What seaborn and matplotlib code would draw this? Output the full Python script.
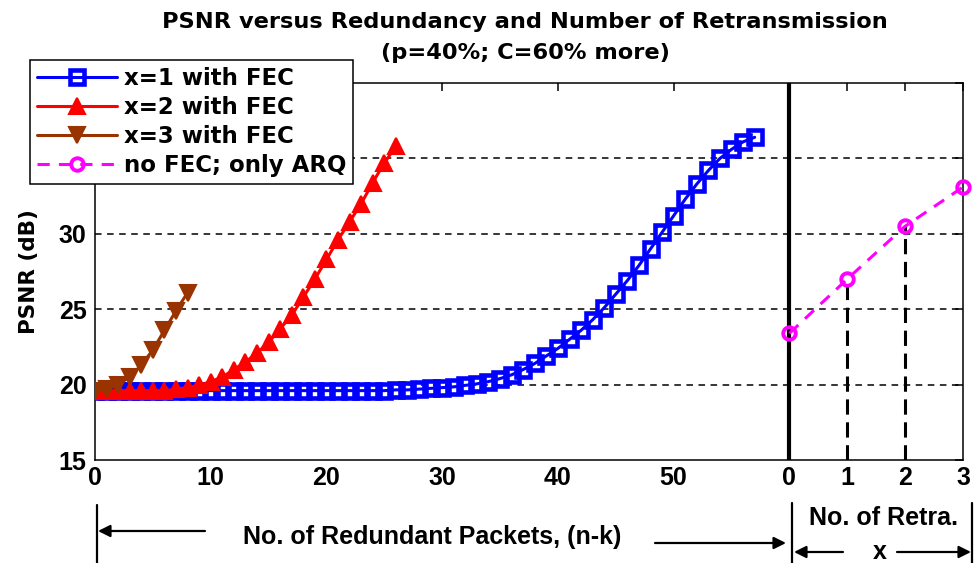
import matplotlib
matplotlib.use("Agg")
import matplotlib.pyplot as plt
import seaborn as sns

# ---- data -------------------------------------------------------------
redundant_x1 = list(range(0, 58))
psnr_x1 = [19.6, 19.6, 19.6, 19.6, 19.6, 19.6, 19.6, 19.6, 19.6, 19.6,
           19.6, 19.6, 19.6, 19.6, 19.6, 19.6, 19.6, 19.6, 19.6, 19.6,
           19.6, 19.6, 19.6, 19.6, 19.6, 19.6, 19.65, 19.65, 19.7, 19.75,
           19.8, 19.85, 19.95, 20.05, 20.2, 20.4, 20.65, 21.0, 21.4, 21.9,
           22.4, 23.0, 23.6, 24.3, 25.1, 26.0, 26.9, 27.9, 29.0, 30.1,
           31.2, 32.3, 33.3, 34.2, 35.0, 35.6, 36.1, 36.4]

redundant_x2 = list(range(0, 27))
psnr_x2 = [19.6, 19.6, 19.6, 19.6, 19.6, 19.6, 19.6, 19.7, 19.8, 19.95,
           20.2, 20.5, 21.0, 21.5, 22.1, 22.8, 23.7, 24.6, 25.8, 27.0,
           28.3, 29.6, 30.8, 32.0, 33.4, 34.7, 35.8]

redundant_x3 = list(range(0, 9))
psnr_x3 = [19.6, 19.7, 20.0, 20.5, 21.3, 22.3, 23.6, 24.9, 26.1]

retransmissions = [0, 1, 2, 3]
psnr_arq = [23.4, 27.0, 30.5, 33.1]

series_labels = ["x=1 with FEC", "x=2 with FEC", "x=3 with FEC", "no FEC; only ARQ"]
redundancy_ticks = [0, 10, 20, 30, 40, 50]
psnr_ticks = [15, 20, 25, 30, 35, 40]

# retransmission panel sits to the right of the redundancy range
RETRA_ORIGIN = 60
RETRA_STEP = 5
retra_pos = [RETRA_ORIGIN + RETRA_STEP * r for r in retransmissions]

# ---- style -------------------------------------------------------------
sns.set_theme(style="white")
plt.rcParams["font.family"] = ["DejaVu Sans"]
plt.rcParams.update({"text.color": "black", "axes.labelcolor": "black",
                     "xtick.color": "black", "ytick.color": "black"})
narrow = ["Liberation Sans", "DejaVu Sans"]

W, H = 979, 563
fig = plt.figure(figsize=(W / 100, H / 100), dpi=100)
L, R, T, B = 95, 963, 83, 460
ax = fig.add_axes([L / W, 1 - B / H, (R - L) / W, (B - T) / H])
ax.set_facecolor("white")

lw = 2.2
sns.lineplot(x=redundant_x1, y=psnr_x1, ax=ax, color="#0000ff", lw=lw,
             marker="s", ms=10, mew=3.3, mec="#0000ff", mfc="none",
             label=series_labels[0], zorder=3)
sns.lineplot(x=redundant_x2, y=psnr_x2, ax=ax, color="#ff0000", lw=lw,
             marker="^", ms=12, mew=1.5, mec="#ff0000", mfc="#ff0000",
             label=series_labels[1], zorder=4)
sns.lineplot(x=redundant_x3, y=psnr_x3, ax=ax, color="#993300", lw=lw,
             marker="v", ms=12, mew=1.5, mec="#993300", mfc="#993300",
             label=series_labels[2], zorder=5)
sns.lineplot(x=retra_pos, y=psnr_arq, ax=ax, color="#ff00ff", lw=lw,
             marker="o", ms=9, mew=2.8, mec="#ff00ff", mfc="none",
             dashes=False, linestyle=(0, (4, 3)),
             label=series_labels[3], zorder=6, clip_on=False)

# separator between the two panels and drop lines to the ARQ points
ax.axvline(RETRA_ORIGIN, color="black", lw=3, zorder=2)
ax.vlines(retra_pos[1:3], 15, psnr_arq[1:3], colors="black", lw=2.2,
          linestyles=[(0, (5, 2.5))], zorder=2)

ax.set_xlim(0, 75)
ax.set_ylim(15, 40)
ax.set_xticks(redundancy_ticks + retra_pos)
ax.set_xticklabels([str(t) for t in redundancy_ticks] + [str(r) for r in retransmissions],
                   family=narrow, fontsize=18, fontweight="bold")
ax.set_yticks(psnr_ticks)
ax.set_yticklabels([str(t) for t in psnr_ticks], family=narrow, fontsize=18,
                   fontweight="bold")
ax.tick_params(direction="in", length=6, width=1.1, top=True, right=True,
               colors="black", pad=4)
ax.tick_params(axis="y", pad=6)

for y in [20, 25, 30, 35]:
    ax.axhline(y, color="black", lw=1.1, linestyle=(0, (4.3, 3.6)), zorder=1)
for s in ax.spines.values():
    s.set_color("black")
    s.set_linewidth(1.1)

ax.set_xlabel("")
ax.set_ylabel("PSNR (dB)", fontsize=15.5, fontweight="bold", labelpad=14)

leg = ax.legend(loc="upper left", bbox_to_anchor=(30 / W, 1 - 60 / H),
                bbox_transform=fig.transFigure, frameon=True, fancybox=False,
                edgecolor="black", framealpha=1, borderaxespad=0,
                prop={"size": 16.5, "weight": "bold"}, handlelength=3.5,
                handletextpad=0.3, labelspacing=0.27, borderpad=0.3)
leg.get_frame().set_linewidth(1.1)
leg.set_zorder(10)

# ---- title ---------------------------------------------------------------
fig.text(525 / W, 1 - 22 / H, "PSNR versus Redundancy and Number of Retransmission",
         ha="center", va="center", fontsize=16.2, fontweight="bold")
fig.text(525 / W, 1 - 53 / H, "(p=40%; C=60% more)",
         ha="center", va="center", fontsize=16.2, fontweight="bold")


# ---- axis captions with arrows below the plot ---------------------------
def fx(px):
    return px / W


def fy(py):
    return 1 - py / H


def vbar(x, y0, y1):
    fig.add_artist(plt.Line2D([fx(x), fx(x)], [fy(y0), fy(y1)], color="black",
                              lw=1.6, transform=fig.transFigure))


def arrow(x0, x1, y):
    ax.annotate("", xy=(fx(x1), fy(y)), xytext=(fx(x0), fy(y)),
                xycoords="figure fraction", textcoords="figure fraction",
                arrowprops=dict(arrowstyle="-|>", color="black", lw=1.6,
                                mutation_scale=18, shrinkA=0, shrinkB=0))


vbar(97, 505, 563)
arrow(205, 98, 531)
fig.text(fx(432), fy(537), "No. of Redundant Packets, (n-k)", ha="center",
         va="center", family=narrow, fontsize=18, fontweight="bold")
arrow(655, 786, 543)

vbar(792, 503, 563)
vbar(972, 503, 563)
fig.text(fx(884), fy(518), "No. of Retra.", ha="center", va="center",
         family=narrow, fontsize=18, fontweight="bold")
arrow(843, 794, 552)
fig.text(fx(880), fy(552), "x", ha="center", va="center", family=narrow,
         fontsize=18, fontweight="bold")
arrow(897, 971, 552)

fig.savefig("out.png", dpi=100)
